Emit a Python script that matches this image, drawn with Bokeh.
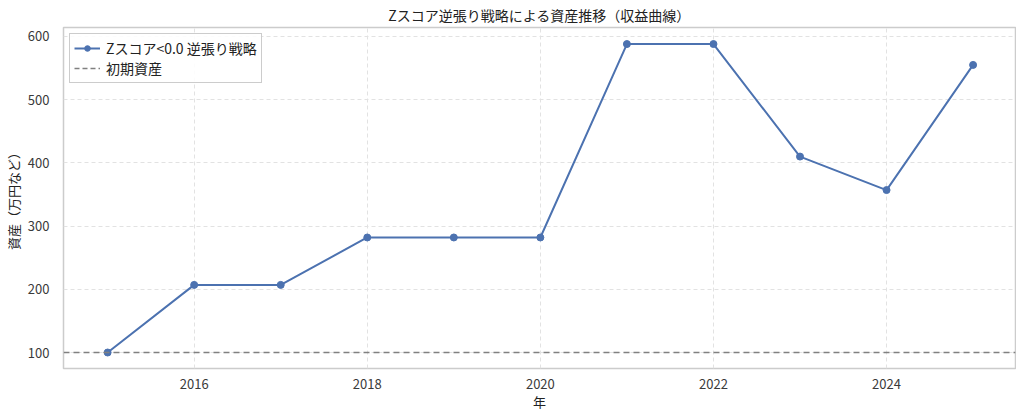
from bokeh.plotting import figure
from bokeh.models import Span, Legend, LegendItem, Range1d, FixedTicker
from bokeh.embed import file_html
from bokeh.resources import INLINE

years = [2015, 2016, 2017, 2018, 2019, 2020, 2021, 2022, 2023, 2024, 2025]
assets = [100, 207, 207, 282, 282, 282, 588, 588, 410, 357, 555]
initial_asset = 100
series_label = "Zスコア<0.0 逆張り戦略"
baseline_label = "初期資産"
title_text = "Zスコア逆張り戦略による資産推移（収益曲線）"
x_ticks = [2016, 2018, 2020, 2022, 2024]
y_ticks = [100, 200, 300, 400, 500, 600]

FONT = "Noto Sans CJK JP"
BLUE = "#4C72B0"

p = figure(frame_width=952, frame_height=341, output_backend="svg", toolbar_location=None,
           x_range=Range1d(2014.49, 2025.49), y_range=Range1d(74.7, 614.2),
           min_border_left=55, min_border_right=1, min_border_top=19, min_border_bottom=43,
           title=title_text)
p.title.text_font = FONT
p.title.text_font_size = "14px"
p.title.text_font_style = "normal"
p.title.text_color = "#222222"
p.title.align = "center"
p.title.standoff = 5

p.outline_line_color = "#cccccc"
p.outline_line_width = 1.5
p.background_fill_color = "white"

for ax in (p.xaxis, p.yaxis):
    ax.axis_line_color = None
    ax.major_tick_line_color = None
    ax.minor_tick_line_color = None
    ax.major_label_text_font = FONT
    ax.major_label_text_font_size = "13px"
    ax.major_label_text_color = "#3a3a3a"
    ax.axis_label_text_font = FONT
    ax.axis_label_text_font_size = "13px"
    ax.axis_label_text_font_style = "normal"
    ax.axis_label_text_color = "#222222"

p.xaxis.ticker = FixedTicker(ticks=x_ticks)
p.yaxis.ticker = FixedTicker(ticks=y_ticks)
p.xaxis.axis_label = "年"
p.yaxis.axis_label = "資産（万円など）"
p.xaxis.major_label_standoff = 4
p.yaxis.major_label_standoff = 8
p.xaxis.axis_label_standoff = 0
p.yaxis.axis_label_standoff = 2

p.xgrid.grid_line_color = "#e2e2e2"
p.ygrid.grid_line_color = "#e2e2e2"
p.xgrid.grid_line_dash = "4 3"
p.ygrid.grid_line_dash = "4 3"

span = Span(location=initial_asset, dimension="width", line_color="#808080",
            line_dash="6 4", line_width=1.5)
p.add_layout(span)
base_r = p.line([2014.0, 2014.0], [initial_asset, initial_asset], line_color="#808080",
                line_dash="5 3", line_width=1.5)

ln = p.line(years, assets, line_color=BLUE, line_width=2)
sc = p.scatter(years, assets, size=7, fill_color=BLUE, line_color=BLUE)

legend = Legend(items=[LegendItem(label=series_label, renderers=[ln, sc]),
                       LegendItem(label=baseline_label, renderers=[base_r])],
                location="top_left")
legend.label_text_font = FONT
legend.label_text_font_size = "14px"
legend.label_text_color = "#222222"
legend.border_line_color = "#cccccc"
legend.border_line_alpha = 1
legend.border_line_width = 1
legend.background_fill_alpha = 0.9
legend.glyph_width = 26
legend.glyph_height = 14
legend.label_height = 14
legend.label_standoff = 6
legend.spacing = 0
legend.padding = 4
legend.margin = 6
p.add_layout(legend)

open("out.html", "w").write(file_html(p, INLINE))
